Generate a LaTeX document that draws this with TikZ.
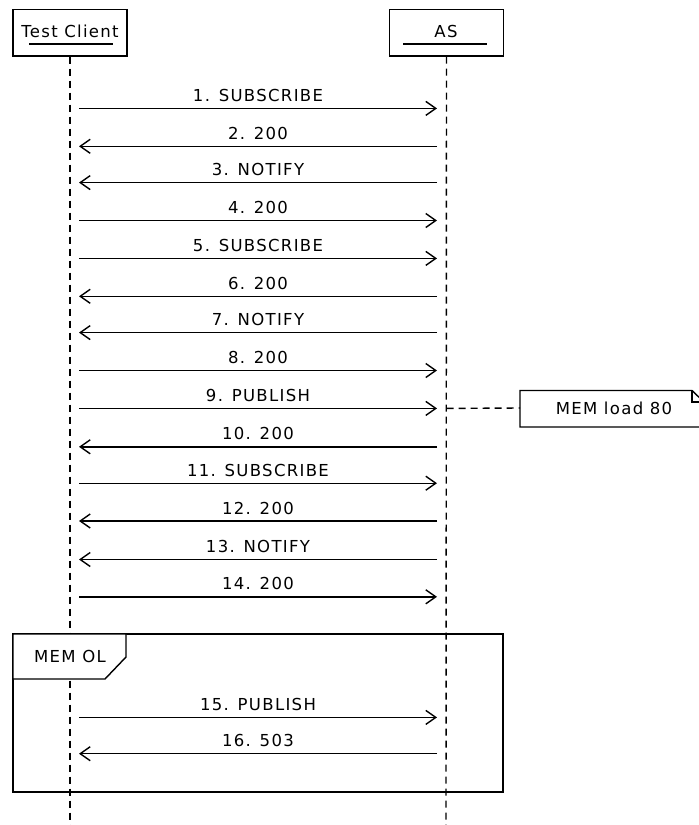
\documentclass[tikz,border=0pt]{standalone}
\usepackage{fontspec}
\setmainfont{DejaVu Sans}[LetterSpace=8]
\usetikzlibrary{arrows.meta,positioning,calc}

\tikzset{
  every node/.style={font=\fontsize{16.5}{19}\selectfont},
  head/.style={draw, line width=1.4pt, minimum width=114pt, minimum height=46.5pt, inner sep=0pt},
  life/.style={line width=1.4pt, dash pattern=on 7pt off 5pt},
  msg/.style={line width=1.4pt, -{Straight Barb[length=10pt,width=14pt,line width=1.4pt]}},
  lbl/.style={above=6pt, inner sep=0pt},
}

\begin{document}
\begin{tikzpicture}[x=1pt, y=-1pt]
  \useasboundingbox (0,0) rectangle (699,825);
  \clip (0,0) rectangle (699,825);

  % Lifeline heads
  \node[head] (client) at (70,32.75) {};
  \node[head] (as) at (446.5,32.75) {};
  \node at (70,31) {Test Client};
  \node at (446,31) {AS};
  \draw[line width=1.4pt] (29,44) -- (113,44);
  \draw[line width=1.4pt] (403,44) -- (487,44);

  % Lifelines
  \coordinate (cend) at (70,830);
  \coordinate (aend) at (446,830);
  \draw[life] (client.south) -- (cend);
  \draw[life] (as.south) -- (aend);

  % Message end points
  \foreach \i/\y in {1/108.4,2/146.3,3/182.6,4/220.5,5/258.4,6/296.3,7/332.6,8/370.5,
                     9/408.4,10/446.8,11/483.2,12/521,13/559.5,14/596.8,15/717.4,16/753.7} {
    \coordinate (c\i) at (79,\y);
    \coordinate (a\i) at (437,\y);
  }

  % Requests and answers
  \foreach \i/\txt in {1/SUBSCRIBE,4/200,5/SUBSCRIBE,8/200,9/PUBLISH,11/SUBSCRIBE,14/200,15/PUBLISH}
    \draw[msg] (c\i) -- node[lbl] {\i. \txt} (a\i);
  \foreach \i/\txt in {2/200,3/NOTIFY,6/200,7/NOTIFY,10/200,12/200,13/NOTIFY,16/503}
    \draw[msg] (a\i) -- node[lbl] {\i. \txt} (c\i);

  % Note on message 9
  \draw[line width=1.4pt] (520,390.5) -- (692,390.5) -- (704,402) -- (704,427) -- (520,427) -- cycle;
  \draw[line width=1.4pt] (692,390.5) -- (692,402) -- (704,402);
  \node (note) at (614,408) {MEM load 80};
  \coordinate (notew) at (520,408);
  \draw[life] (as.south |- a9) -- (notew);

  % Overload frame
  \draw[line width=1.4pt] (13,634) rectangle (503,792);
  \filldraw[fill=white, line width=1.4pt] (13,634) -- (13,679) -- (105,679) -- (126,657) -- (126,634) -- cycle;
  \node (frame) at (70,656) {MEM OL};
\end{tikzpicture}
\end{document}
